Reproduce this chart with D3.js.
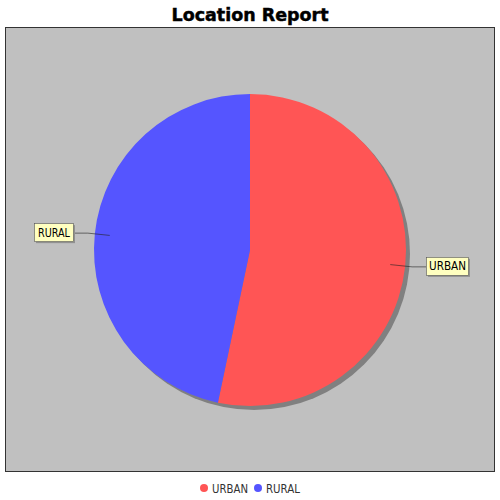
<!DOCTYPE html>
<html><head><meta charset="utf-8">
<script src="https://cdn.jsdelivr.net/npm/d3@7"></script>
<style>html,body{margin:0;padding:0;background:#fff;}svg{display:block;}</style>
</head><body>
<svg id="c" width="500" height="500"></svg>
<script>
const categories = ["URBAN", "RURAL"];
const values = [53.3, 46.7];
const colors = ["#FF5555", "#5555FF"];
const title = "Location Report";

const svg = d3.select("#c");
const plot = {x: 5.5, y: 27.5, w: 489, h: 444};
svg.append("rect").attr("x", plot.x).attr("y", plot.y).attr("width", plot.w).attr("height", plot.h)
  .attr("fill", "#C0C0C0").attr("stroke", "#333").attr("stroke-width", 1);

svg.append("text").attr("x", 250).attr("y", 21).attr("text-anchor", "middle")
  .attr("font-family", "DejaVu Sans").attr("font-weight", "bold").attr("font-size", 18.5)
  .attr("stroke", "#000").attr("stroke-width", 0.5)
  .attr("textLength", 157).attr("lengthAdjust", "spacingAndGlyphs")
  .text(title);

const cx = 250, cy = 250, R = 156;
const pie = d3.pie().sort(null).value(d => d)(values);
const arc = d3.arc().innerRadius(0).outerRadius(R);
const g = svg.append("g").attr("transform", `translate(${cx},${cy})`);
g.append("circle").attr("cx", 4).attr("cy", 4).attr("r", R).attr("fill", "#808080");
g.selectAll("path.s").data(pie).join("path").attr("class", "s")
  .attr("d", arc).attr("fill", (d, i) => colors[i]);

// labels
pie.forEach((d, i) => {
  const a = (d.startAngle + d.endAngle) / 2;
  const sx = Math.sin(a), sy = -Math.cos(a);
  const p1 = [sx * 141, sy * 141];
  const p2 = [sx * 163, sy * 163];
  const right = sx > 0;
  const boxW = right ? 42 : 39, boxH = 18;
  const bx = right ? 176 : -216;
  const bxEdge = right ? bx : bx + boxW;
  const by = p2[1] - boxH / 2 - 1;
  g.append("polyline").attr("points", [p1, p2, [bxEdge, p2[1]]].map(p => p.join(",")).join(" "))
    .attr("fill", "none").attr("stroke", "#222").attr("stroke-width", 0.6);
  g.append("rect").attr("x", bx + 2).attr("y", by + 2).attr("width", boxW).attr("height", boxH)
    .attr("fill", "#909090");
  g.append("rect").attr("x", bx + 0.5).attr("y", by + 0.5).attr("width", boxW).attr("height", boxH)
    .attr("fill", "#FFFFC0").attr("stroke", "#555").attr("stroke-width", 0.6);
  g.append("text").attr("x", bx + 0.5 + boxW / 2).attr("y", by + boxH / 2 + 4.5)
    .attr("text-anchor", "middle").attr("font-family", "DejaVu Sans").attr("font-size", 11.5)
    .attr("textLength", right ? 37 : 32).attr("lengthAdjust", "spacingAndGlyphs")
    .attr("fill", "#000").text(categories[i]);
});

// legend
const leg = svg.append("g");
const legendTextLen = [36, 34];
let lx = 204;
categories.forEach((c, i) => {
  leg.append("circle").attr("cx", lx).attr("cy", 488).attr("r", 4).attr("fill", colors[i]);
  leg.append("text").attr("x", lx + 8).attr("y", 492.5).attr("font-family", "DejaVu Sans")
    .attr("font-size", 12).attr("fill", "#333")
    .attr("textLength", legendTextLen[i]).attr("lengthAdjust", "spacingAndGlyphs").text(c);
  lx += 8 + legendTextLen[i] + 10;
});
</script>
</body></html>
